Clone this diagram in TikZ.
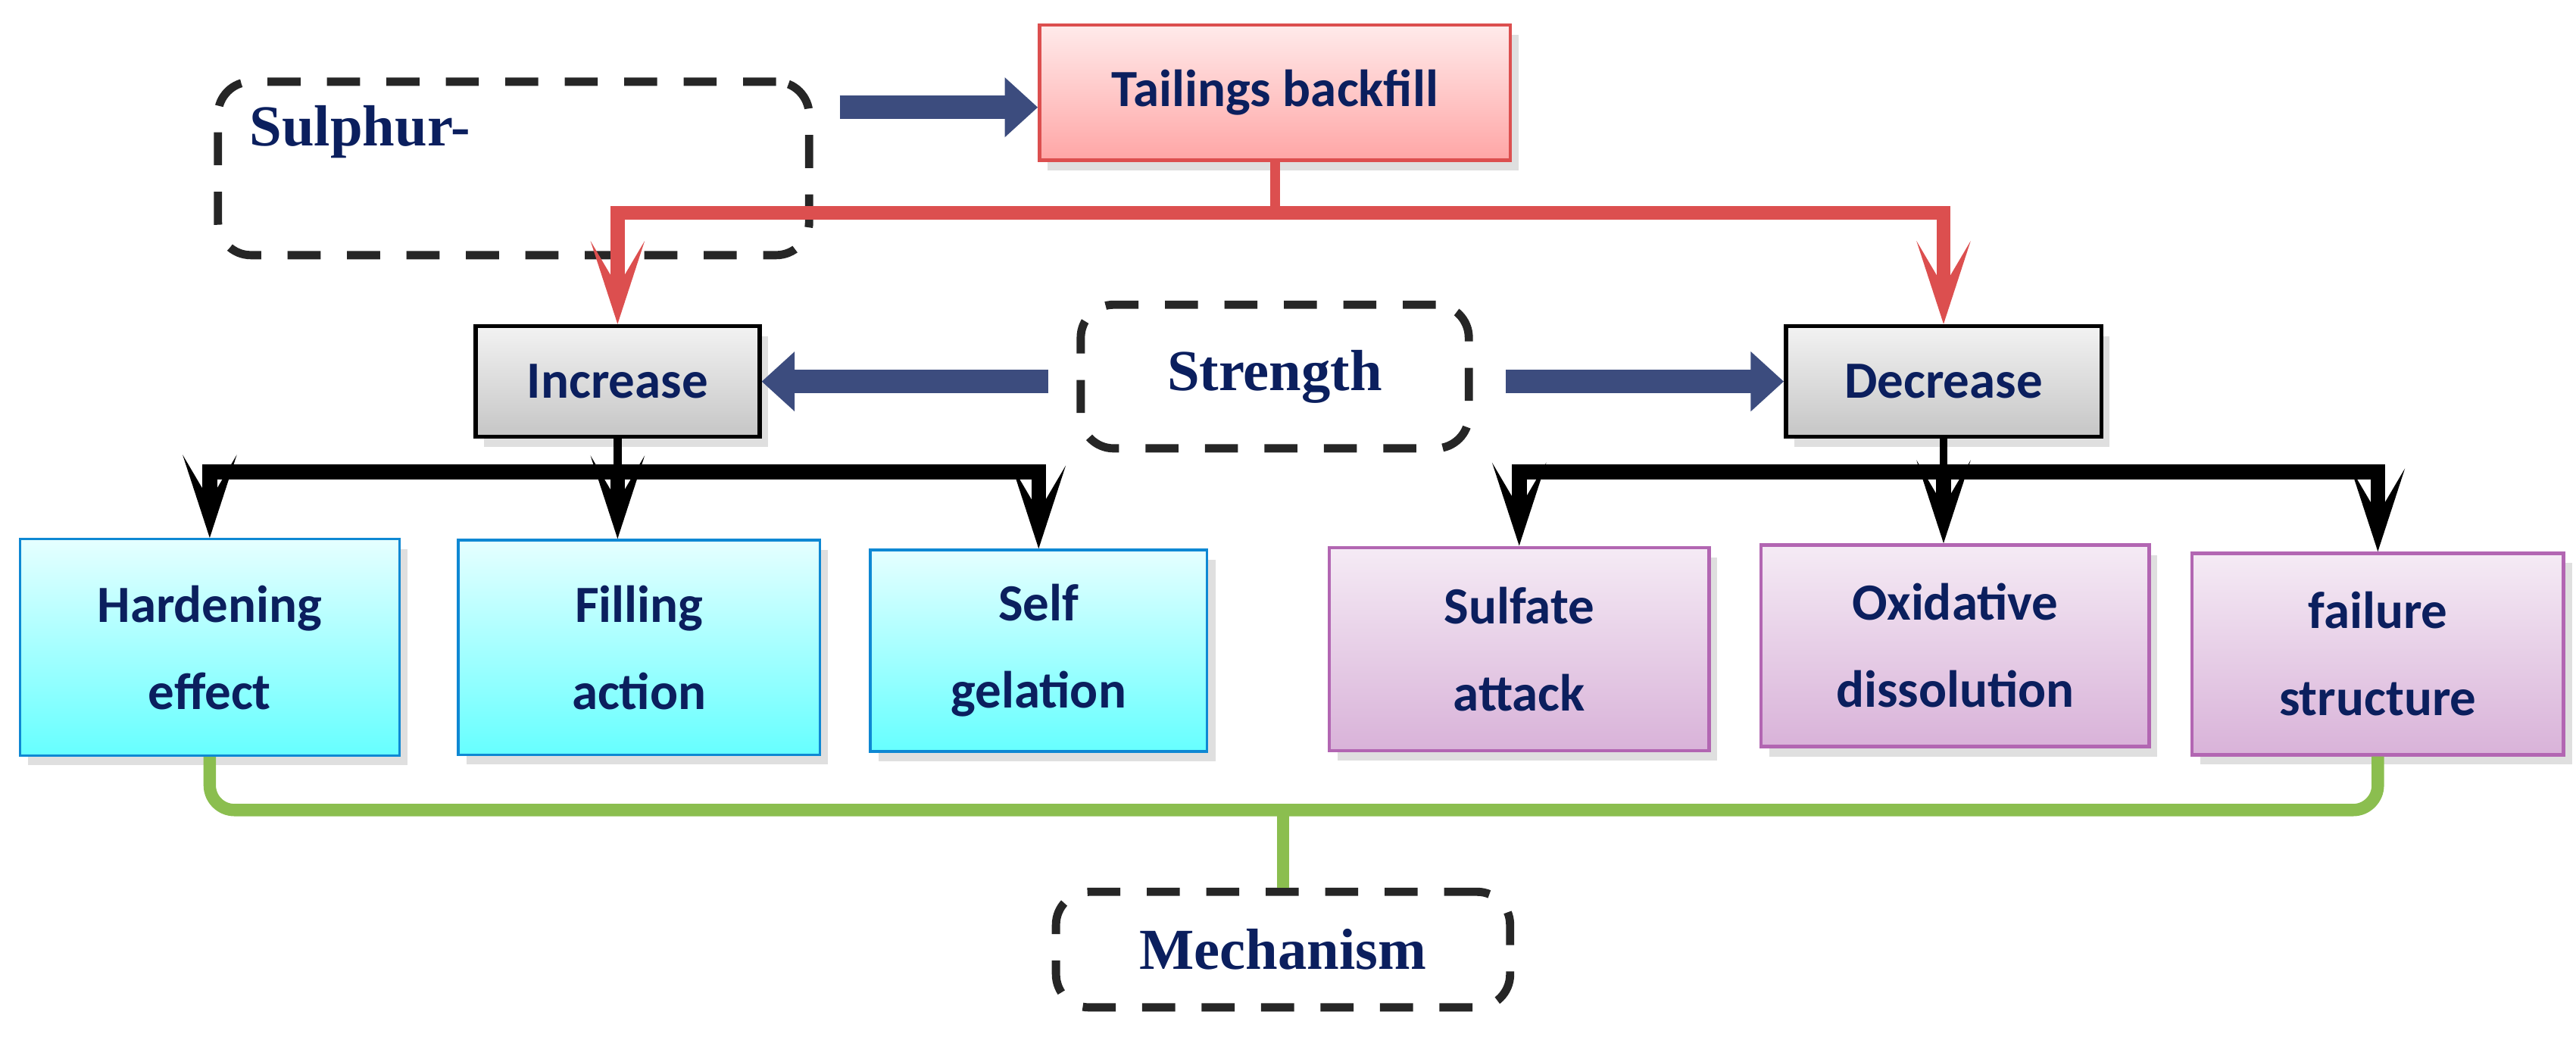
\documentclass[tikz,border=0pt]{standalone}
\usepackage{fontspec}
\setmainfont{Liberation Serif}
\newfontfamily\boxfont{Carlito}
\usetikzlibrary{positioning}
\usetikzlibrary{arrows.meta}
\usetikzlibrary{shadows}
\definecolor{navy}{HTML}{0B1F5E}
\definecolor{redline}{HTML}{DC4F4F}
\definecolor{greenline}{HTML}{8BBE4F}
\tikzset{
  txt/.style={text=navy, font=\boxfont\bfseries\fontsize{18}{30}\selectfont, align=center},
  dashbox/.style={draw=black!85, line width=1mm, dash pattern=on 4mm off 3.2mm, rounded corners=4mm,
    text=navy, font=\bfseries\fontsize{20}{22}\selectfont},
  box/.style={txt, inner sep=0pt, drop shadow={opacity=0.25, shadow xshift=1mm, shadow yshift=-1.2mm}},
  pinkbox/.style={box, draw=redline, line width=0.4mm, top color=red!8, bottom color=red!35},
  greybox/.style={box, draw=black, line width=0.5mm, top color=gray!10, bottom color=gray!45},
  cyanbox/.style={box, draw=cyan!70!blue, line width=0.3mm, top color=cyan!10, bottom color=cyan!60},
  purplebox/.style={box, draw=violet!60, line width=0.4mm, top color=violet!8, bottom color=violet!30},
  fatarrow/.style={navy!80, line width=2.8mm, -{Triangle[length=4mm,width=7mm]}},
  redarrow/.style={redline, line width=1.7mm, -{Stealth[length=10mm,width=6.5mm,inset=5.5mm]}},
  blackarrow/.style={black, line width=1.8mm, -{Stealth[length=10mm,width=6.5mm,inset=5.5mm]}},
}
\begin{document}
\begin{tikzpicture}[x=0.2mm,y=-0.2mm]
  \useasboundingbox (0,0) rectangle (1560,640.8);

  % top row
  \node[dashbox, minimum width=71.6mm, minimum height=21mm] (sulphur) at (311,102) {};
  \node[text=navy, font=\bfseries\fontsize{20}{22}\selectfont] (sulphurtxt) at (218,80) {Sulphur-};
  \node[pinkbox, minimum width=57mm, minimum height=16.4mm] (tail) at (772,56) {Tailings backfill};

  % middle row
  \node[greybox, minimum width=34.4mm, minimum height=13.4mm] (inc) at (374,231) {\raisebox{-1.5mm}{Increase}};
  \node[dashbox, minimum width=47mm, minimum height=17.4mm] (str) at (772,228) {Strength};
  \node[greybox, minimum width=38.2mm, minimum height=13.4mm] (dec) at (1177,231) {\raisebox{-1.5mm}{Decrease}};

  % bottom row
  \node[cyanbox, minimum width=46mm, minimum height=26.2mm] (hard) at (127,392) {Hardening\\effect};
  \node[cyanbox, minimum width=43.8mm, minimum height=26mm] (fill) at (387,392) {Filling\\action};
  \node[cyanbox, minimum width=40.8mm, minimum height=24.4mm] (self) at (629,394) {Self\\gelation};
  \node[purplebox, minimum width=46mm, minimum height=24.6mm] (sulf) at (920,393) {Sulfate\\attack};
  \node[purplebox, minimum width=47mm, minimum height=24.4mm] (oxid) at (1184,391) {Oxidative\\dissolution};
  \node[purplebox, minimum width=45mm, minimum height=24.4mm] (fail) at (1440,396) {failure\\structure};

  \node[dashbox, minimum width=55mm, minimum height=14mm] (mech) at (777,575) {\raisebox{-1.5mm}{Mechanism}};

  % connectors
  \draw[fatarrow] (sulphur.east) ++(16,-37) coordinate (s1) -- (s1 -| tail.west);
  \draw[fatarrow] (str.west) ++(-17,3) coordinate (s2) -- (s2 -| inc.east);
  \draw[fatarrow] (str.east) ++(20,3) coordinate (s3) -- (s3 -| dec.west);

  \path (tail.south) ++(0,31) coordinate (rmid);
  \draw[redline, line width=1.2mm] (tail.south) -- (rmid);
  \draw[redarrow] (rmid) -| (inc.north);
  \draw[redarrow] (rmid) -| (dec.north);

  \path (inc.south) ++(0,20) coordinate (imid);
  \draw[black, line width=1mm] (inc.south) -- (imid);
  \draw[blackarrow] (imid) -| (hard.north);
  \draw[blackarrow] (imid) -- (imid |- fill.north);
  \draw[blackarrow] (imid) -| (self.north);

  \path (dec.south) ++(0,20) coordinate (dmid);
  \draw[black, line width=1mm] (dec.south) -- (dmid);
  \draw[blackarrow] (dmid) -| (sulf.north);
  \draw[blackarrow] (dmid) -- (dmid |- oxid.north);
  \draw[blackarrow] (dmid) -| (fail.north);

  \path (mech.north) ++(0,-47) coordinate (gmid);
  \draw[greenline, line width=1.5mm, rounded corners=3mm] (hard.south) -- (hard.south |- gmid) -- (gmid -| fail.south) -- (fail.south);
  \draw[greenline, line width=1.5mm] (gmid) -- (mech.north);
\end{tikzpicture}
\end{document}
